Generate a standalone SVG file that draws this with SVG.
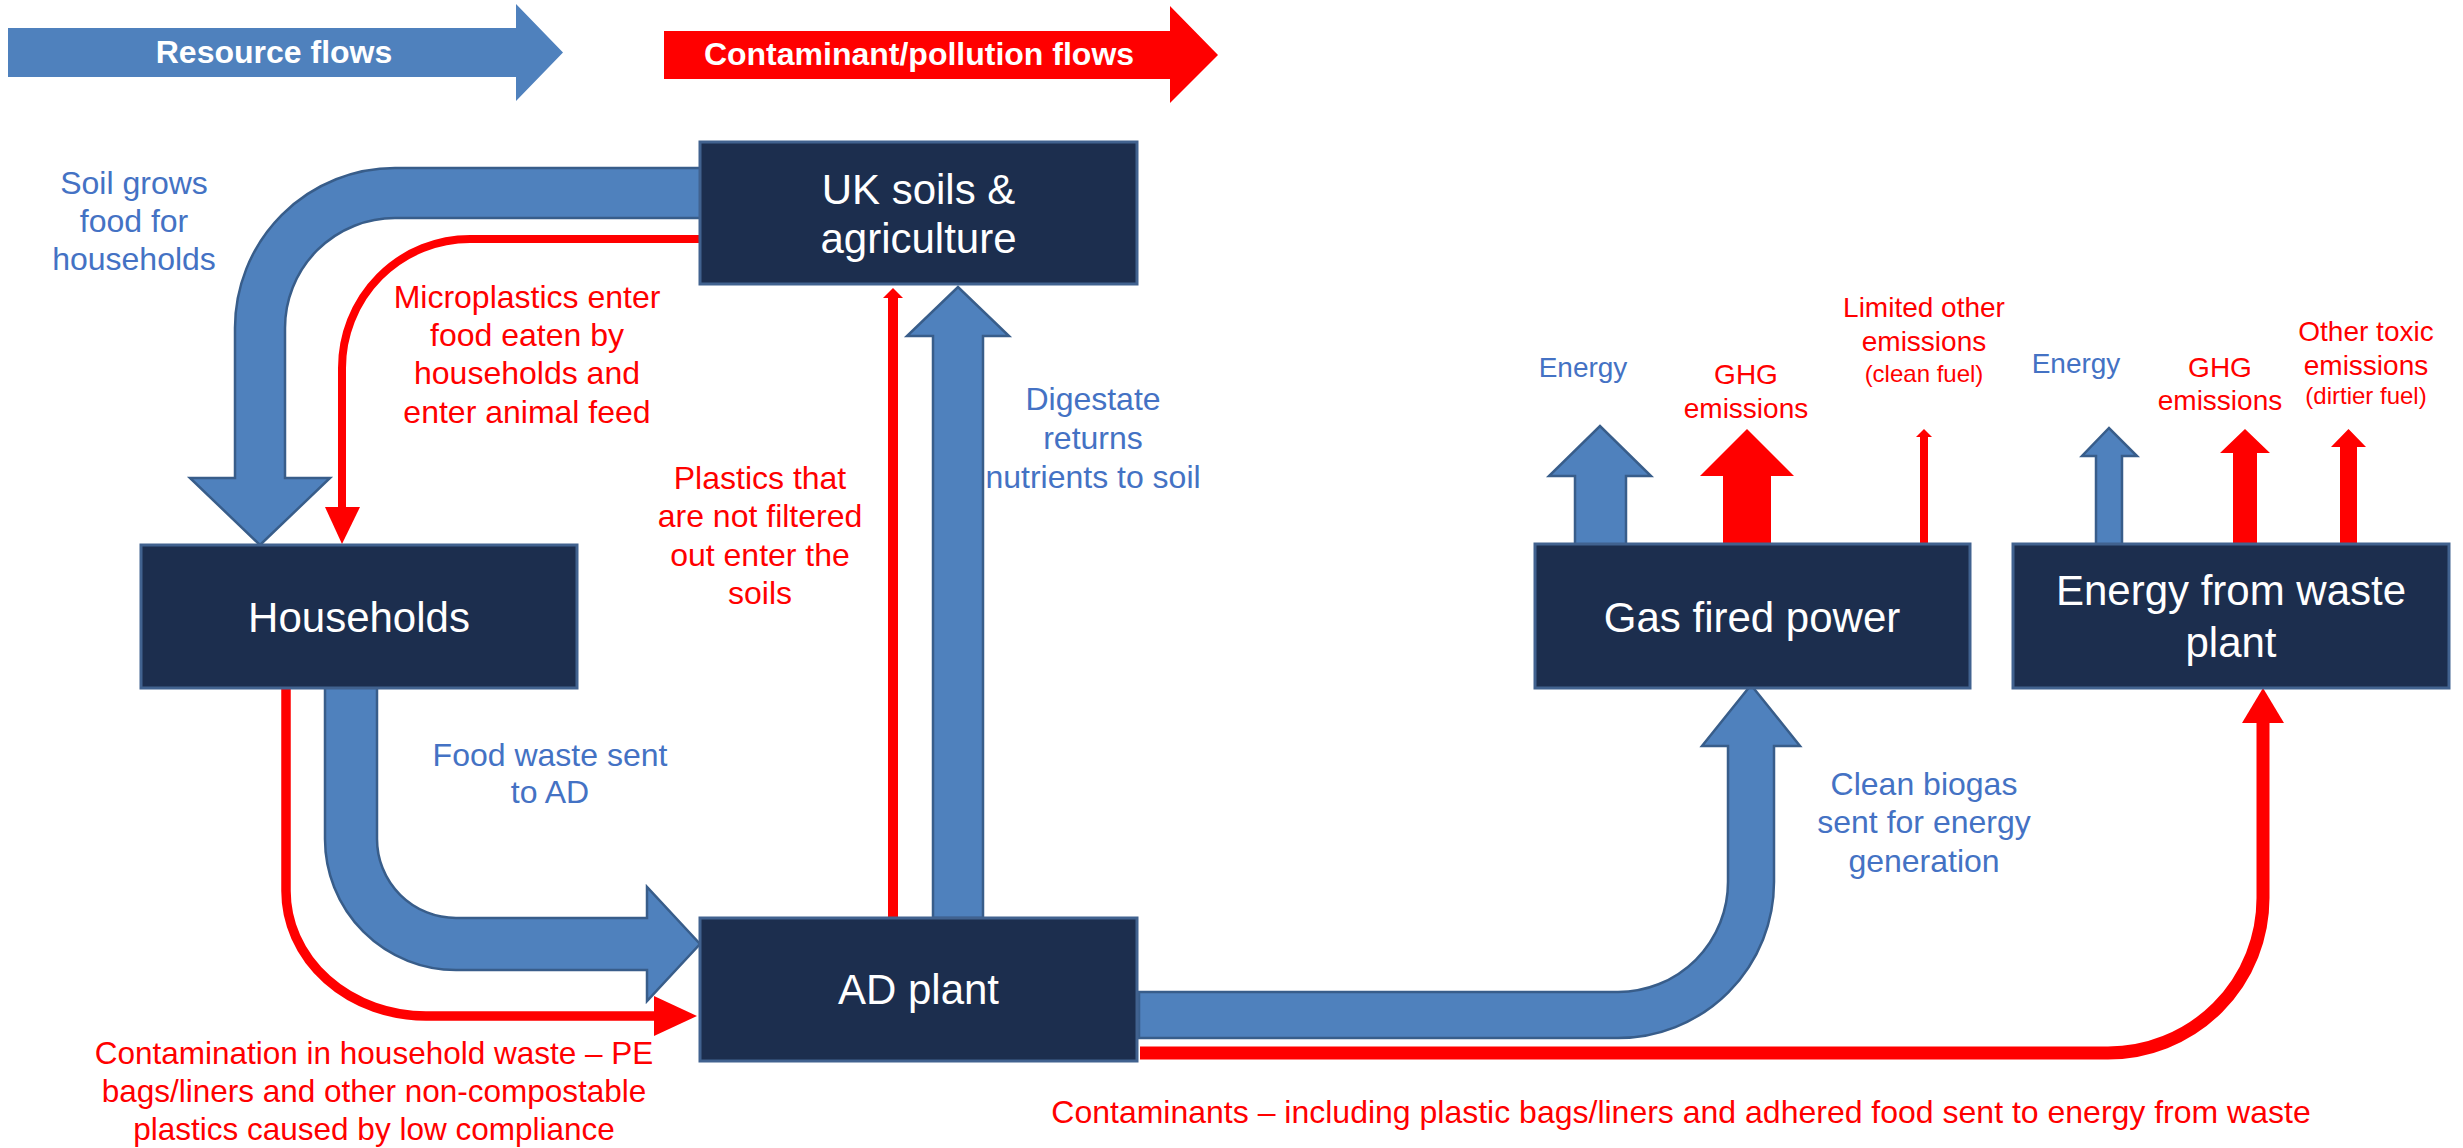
<svg xmlns="http://www.w3.org/2000/svg" width="2463" height="1148" viewBox="0 0 2463 1148">
<style>
text{font-family:"Liberation Sans",Arial,sans-serif;text-anchor:middle}
.box{fill:#1c2e4e;stroke:#41628f;stroke-width:3}
.bt{fill:#fff;font-size:42px}
.blk{fill:#4f81bd;stroke:#385d8a;stroke-width:2.5;stroke-linejoin:miter}
.red{fill:none;stroke:#ff0000}
.rh{fill:#ff0000}
.lb{fill:#4472c4;font-size:32px}
.lr{fill:#ff0000;font-size:32px}
.sb{fill:#4472c4;font-size:28px}
.sr{fill:#ff0000;font-size:28px}
.xr{fill:#ff0000;font-size:24px}
.leg{fill:#fff;font-size:32px;font-weight:bold}
</style>
<rect width="2463" height="1148" fill="#fff"/>
<g id="legend">
<polygon points="8,28 516,28 516,4 563,52.5 516,101 516,77 8,77" fill="#4f81bd"/>
<text class="leg" x="274" y="63">Resource flows</text>
<polygon points="664,31 1170,31 1170,6 1218,55 1170,103 1170,79 664,79" fill="#ff0000"/>
<text class="leg" x="919" y="65">Contaminant/pollution flows</text>
</g>
<g id="connectors">
<path class="blk" d="M704 168 L395 168 A160 160 0 0 0 235 328 L235 478 L190 478 L260 545 L330 478 L285 478 L285 328 A110 110 0 0 1 395 218 L704 218 Z"/>
<path class="red" stroke-width="8" d="M700 239 L470 239 A128 129 0 0 0 342 368 L342 508"/>
<polygon class="rh" points="325,507 360,507 342,544"/>
<path class="blk" d="M325 686 L325 839 A131 131 0 0 0 456 970 L647 970 L647 1001 L700 944 L647 887 L647 918 L456 918 A79 79 0 0 1 377 839 L377 686 Z"/>
<path class="red" stroke-width="9.5" d="M286 688 L286 891 A140 125 0 0 0 426 1016 L656 1016"/>
<polygon class="rh" points="654,996 697,1016 654,1036"/>
<path class="red" stroke-width="10" d="M893 918 L893 296"/>
<polygon class="rh" points="883,298 903,298 893,288"/>
<path class="blk" d="M933 918 L933 336 L907 336 L958 287 L1009 336 L983 336 L983 918 Z"/>
<path class="blk" d="M1139 992 L1618 992 A110 110 0 0 0 1728 882 L1728 746 L1702 746 L1751 685 L1800 746 L1774 746 L1774 882 A156 156 0 0 1 1618 1038 L1139 1038 Z"/>
<path class="red" stroke-width="13" d="M1140 1053 L2108 1053 A155 155 0 0 0 2263 898 L2263 722"/>
<polygon class="rh" points="2242,723 2284,723 2263,688"/>
<path class="blk" d="M1575 545 L1575 476 L1549 476 L1600 426 L1651 476 L1626 476 L1626 545 Z"/>
<polygon class="rh" points="1723,545 1723,476 1700,476 1747,429 1794,476 1771,476 1771,545"/>
<path class="red" stroke-width="8" d="M1924 545 L1924 436"/>
<polygon class="rh" points="1916,437 1932,437 1924,429"/>
<path class="blk" d="M2096 546 L2096 456 L2082 456 L2109 428 L2137 456 L2122 456 L2122 546 Z"/>
<polygon class="rh" points="2233,545 2233,453 2220,453 2245,429 2270,453 2257,453 2257,545"/>
<polygon class="rh" points="2340,545 2340,447 2331,447 2348.5,429 2366,447 2357,447 2357,545"/>
</g>
<g id="labels">
<text class="lb" x="134" y="194">Soil grows</text>
<text class="lb" x="134" y="232">food for</text>
<text class="lb" x="134" y="270">households</text>
<text class="lr" x="527" y="308">Microplastics enter</text>
<text class="lr" x="527" y="346">food eaten by</text>
<text class="lr" x="527" y="384">households and</text>
<text class="lr" x="527" y="423">enter animal feed</text>
<text class="lr" x="760" y="489">Plastics that</text>
<text class="lr" x="760" y="527">are not filtered</text>
<text class="lr" x="760" y="566">out enter the</text>
<text class="lr" x="760" y="604">soils</text>
<text class="lb" x="1093" y="410">Digestate</text>
<text class="lb" x="1093" y="449">returns</text>
<text class="lb" x="1093" y="488">nutrients to soil</text>
<text class="lb" x="550" y="766">Food waste sent</text>
<text class="lb" x="550" y="803">to AD</text>
<text class="lr" x="374" y="1064" style="font-size:31.5px">Contamination in household waste – PE</text>
<text class="lr" x="374" y="1102" style="font-size:31.5px">bags/liners and other non-compostable</text>
<text class="lr" x="374" y="1140" style="font-size:31.5px">plastics caused by low compliance</text>
<text class="lb" x="1924" y="795">Clean biogas</text>
<text class="lb" x="1924" y="833">sent for energy</text>
<text class="lb" x="1924" y="872">generation</text>
<text class="lr" x="1681" y="1123">Contaminants – including plastic bags/liners and adhered food sent to energy from waste</text>
<text class="sb" x="1583" y="377">Energy</text>
<text class="sr" x="1746" y="384">GHG</text>
<text class="sr" x="1746" y="418">emissions</text>
<text class="sr" x="1924" y="317">Limited other</text>
<text class="sr" x="1924" y="351">emissions</text>
<text class="xr" x="1924" y="382">(clean fuel)</text>
<text class="sb" x="2076" y="373">Energy</text>
<text class="sr" x="2220" y="377">GHG</text>
<text class="sr" x="2220" y="410">emissions</text>
<text class="sr" x="2366" y="341">Other toxic</text>
<text class="sr" x="2366" y="375">emissions</text>
<text class="xr" x="2366" y="404">(dirtier fuel)</text>
</g>
<g id="uk-soils">
<rect class="box" x="700" y="142" width="437" height="142"/>
<text class="bt" x="918.5" y="204">UK soils &amp;</text>
<text class="bt" x="918.5" y="253">agriculture</text>
</g>
<g id="households">
<rect class="box" x="141" y="545" width="436" height="143"/>
<text class="bt" x="359" y="632">Households</text>
</g>
<g id="ad-plant">
<rect class="box" x="700" y="918" width="437" height="143"/>
<text class="bt" x="918.5" y="1004">AD plant</text>
</g>
<g id="gas-fired-power">
<rect class="box" x="1535" y="544" width="435" height="144"/>
<text class="bt" x="1752" y="632">Gas fired power</text>
</g>
<g id="energy-from-waste">
<rect class="box" x="2013" y="544" width="436" height="144"/>
<text class="bt" x="2231" y="605">Energy from waste</text>
<text class="bt" x="2231" y="657">plant</text>
</g>
</svg>
